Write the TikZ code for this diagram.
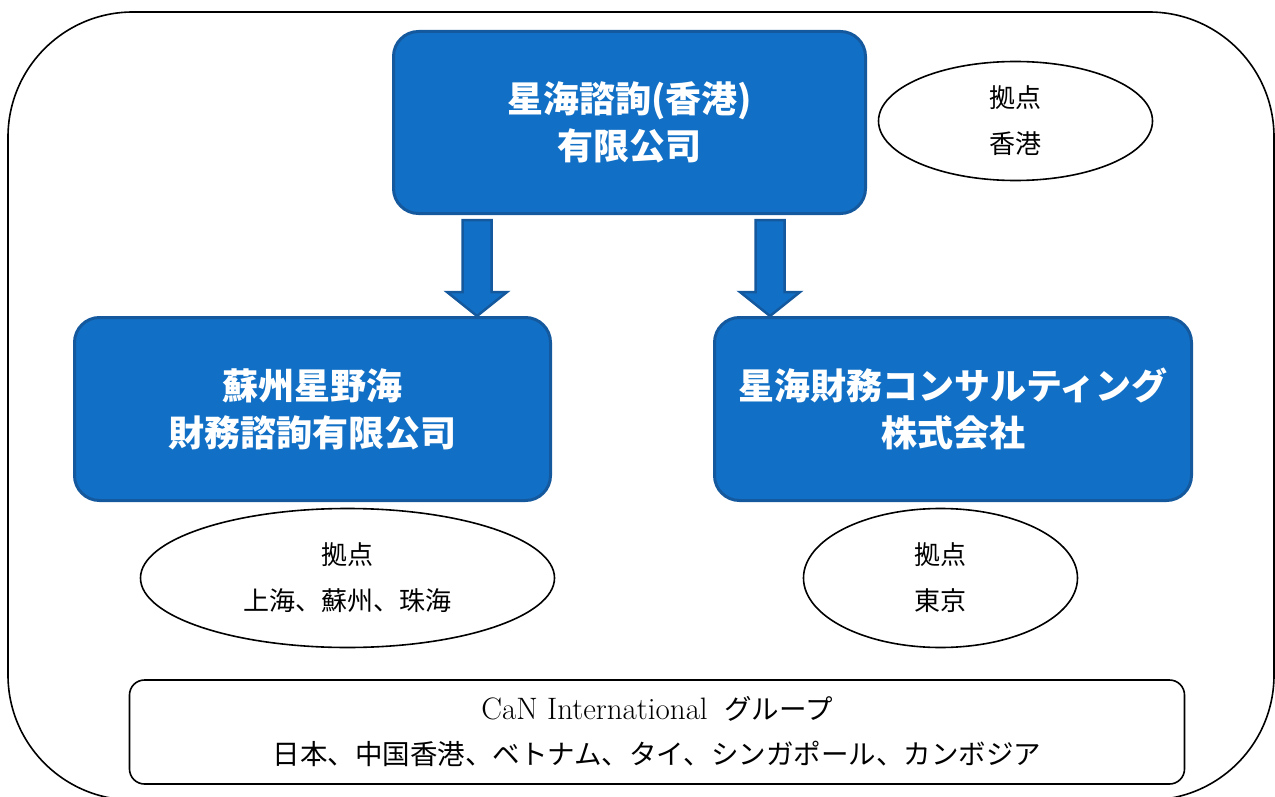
\documentclass[tikz,border=0pt]{standalone}
\usepackage{fontspec}
\newfontfamily\jp{Noto Sans CJK JP}
\usetikzlibrary{calc,shapes.geometric}
\definecolor{boxblue}{RGB}{17,112,198}
\definecolor{boxedge}{RGB}{20,88,158}

\tikzset{
  company/.style={draw=boxedge, line width=3pt, fill=boxblue, rounded corners=25pt,
    text=white, align=center, font=\fontsize{36}{47}\selectfont\jp\bfseries},
  base/.style={draw, ellipse, line width=1.6pt, inner sep=0pt, align=center,
    font=\fontsize{26}{46}\selectfont\jp},
  bigarrow/.style={draw=boxedge, line width=2.5pt, fill=boxblue},
}
\newcommand{\blockarr}[2]{%
  \draw[bigarrow] ($(#1)+(-14.5,0)$) -- ($(#2)+(-14.5,-24)$) -- ($(#2)+(-30,-24)$)
    -- (#2) -- ($(#2)+(30,-24)$) -- ($(#2)+(14.5,-24)$) -- ($(#1)+(14.5,0)$) -- cycle;}

\begin{document}
\begin{tikzpicture}[x=1pt,y=-1pt]
    \useasboundingbox (0,0) rectangle (1275,797);
    \draw[line width=1.6pt, rounded corners=125pt] (8,12) rectangle (1274,800);

    \node[company, minimum width=472pt, minimum height=182pt] (hk) at (629.5,122.5) {星海諮詢(香港)\\有限公司};
    \node[company, minimum width=476pt, minimum height=183pt] (sz) at (312.5,409) {蘇州星野海\\財務諮詢有限公司};
    \node[company, minimum width=477pt, minimum height=183pt] (jp) at (953,409) {星海財務コンサルティング\\株式会社};

    \coordinate (a1) at ($(hk.south)+(-152.5,5)$);
    \coordinate (a2) at ($(hk.south)+(140.5,5)$);
    \coordinate (t1) at (a1 |- sz.north);
    \coordinate (t2) at (a2 |- jp.north);
    \blockarr{a1}{t1}
    \blockarr{a2}{t2}

    \node[base, minimum width=274pt, minimum height=119pt] (hkbase) at (1015.5,121) {拠点\\香港};
    \node[base, minimum width=414pt, minimum height=139pt] (szbase) at (347.5,578) {拠点\\上海、蘇州、珠海};
    \node[base, minimum width=274pt, minimum height=139pt] (jpbase) at (940.5,578) {拠点\\東京};

    \node[draw, line width=1.6pt, rounded corners=15pt, minimum width=1055pt, minimum height=104pt,
      align=center, font=\fontsize{27.5}{45}\selectfont] (grp) at (657,732)
      {{\fontsize{31}{45}\selectfont CaN International}\ \ {\jp グループ}\\{\jp 日本、中国香港、ベトナム、タイ、シンガポール、カンボジア}};
\end{tikzpicture}
\end{document}
